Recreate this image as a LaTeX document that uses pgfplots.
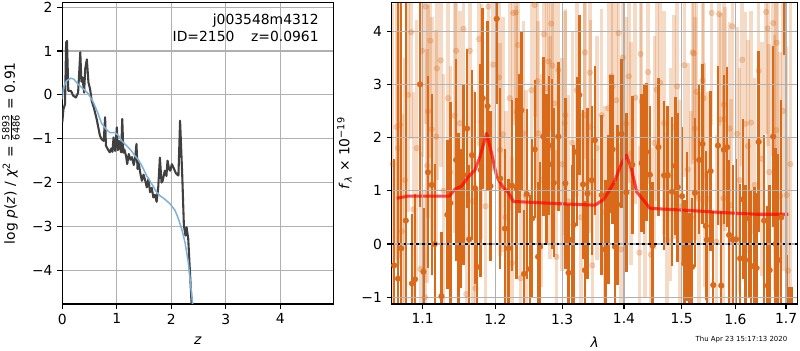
\documentclass[border=0pt]{standalone}
\usepackage{fontspec}
\setmainfont{DejaVu Sans}
\usepackage{pgfplots}
\pgfplotsset{compat=1.18}
\definecolor{darkline}{RGB}{64,64,64}
\definecolor{bluel}{RGB}{127,178,214}
\definecolor{orng}{RGB}{216,106,26}
\definecolor{gridc}{RGB}{176,176,176}
\pgfplotsset{
  mpl/.style={
    scale only axis, anchor=south west,
    axis line style={line width=0.8pt, black},
    grid=major, major grid style={line width=0.8pt, gridc},
    tick align=outside, major tick length=3.5pt,
    tick style={line width=0.8pt, black},
    xtick pos=bottom, ytick pos=left,
    tick label style={font=\normalsize},
    label style={font=\normalsize},
  }
}
\begin{document}
\begin{tikzpicture}
\path[use as bounding box] (0,0) rectangle (576pt,252pt);
% ---------------- left panel ----------------
\begin{axis}[mpl,
  at={(44.86pt,33.12pt)}, width=195.1pt, height=217.2pt,
  xmin=0, xmax=4.97, ymin=-4.77, ymax=2.11,
  xtick={0,1,2,3,4}, xticklabels={0,1,2,3,4},
  ytick={-4,-3,-2,-1,0,1,2}, yticklabels={−4,−3,−2,−1,0,1,2},
  xlabel={\textit{z}},
  xlabel style={yshift=-2pt},
  ylabel={log \textit{p}(\textit{z}) / \textit{χ}\textsuperscript{2} = $\frac{\mbox{\scriptsize 5893}}{\mbox{\scriptsize 6486}}$ = 0.91},
  ylabel style={yshift=2pt},
]
\addplot[darkline, line width=1.5pt, line join=round] coordinates {
(0.00,-0.63) (0.02,-0.33) (0.05,-0.21) (0.07,1.19) (0.086,1.23) (0.11,0.09)
(0.16,0.09) (0.20,-0.02) (0.25,-0.06) (0.29,0.05) (0.33,0.97) (0.35,0.30)
(0.37,0.40) (0.40,0.05) (0.42,0.59) (0.45,0.81) (0.48,0.28) (0.51,0.13)
(0.54,-0.14) (0.58,-0.30) (0.63,-0.55) (0.69,-0.93) (0.72,-1.01) (0.76,-1.05)
(0.785,-0.51) (0.80,-1.16) (0.84,-1.25) (0.87,-1.31) (0.90,-1.22) (0.92,-1.30)
(0.94,-0.97) (0.97,-1.28) (1.00,-0.74) (1.02,-1.26) (1.04,-1.05) (1.06,-1.20)
(1.08,-1.31) (1.10,-0.55) (1.12,-1.32) (1.14,-1.25) (1.17,-1.40) (1.19,-1.58)
(1.22,-1.35) (1.25,-1.48) (1.28,-1.42) (1.31,-1.60) (1.335,-1.45) (1.36,-1.12)
(1.38,-1.69) (1.40,-1.54) (1.43,-1.78) (1.46,-1.96) (1.49,-1.82) (1.52,-1.95)
(1.55,-2.11) (1.58,-1.92) (1.61,-2.22) (1.64,-2.12) (1.67,-2.34) (1.70,-2.28)
(1.73,-2.44) (1.76,-2.10) (1.79,-1.43) (1.82,-2.00) (1.84,-1.96) (1.88,-1.73)
(1.91,-1.85) (1.93,-1.50) (1.96,-1.70) (1.98,-1.73) (2.01,-1.58) (2.05,-1.69)
(2.08,-1.78) (2.10,-1.81) (2.13,-1.84) (2.16,-0.59) (2.20,-1.84) (2.23,-2.98)
(2.26,-3.21) (2.28,-3.02) (2.31,-3.29) (2.37,-4.73) (2.40,-5.30)
};
\addplot[bluel, line width=1.1pt] coordinates {
(0.00,-0.10) (0.02,0.17) (0.08,0.32) (0.15,0.38) (0.21,0.36) (0.29,0.24)
(0.39,0.13) (0.48,0.02) (0.57,-0.17) (0.66,-0.44) (0.72,-0.65) (0.80,-0.78)
(0.87,-0.86) (0.97,-0.86) (1.03,-0.93) (1.09,-1.05) (1.18,-1.16) (1.27,-1.28)
(1.33,-1.39) (1.39,-1.47) (1.46,-1.62) (1.55,-1.85) (1.64,-2.03) (1.73,-2.22)
(1.79,-2.30) (1.88,-2.38) (1.98,-2.49) (2.07,-2.64) (2.13,-2.83) (2.19,-3.06)
(2.25,-3.36) (2.31,-3.82) (2.39,-4.75) (2.42,-5.10)
};
\node[anchor=north east, align=right, inner sep=0pt] at (rel axis cs:0.947,0.962)
  {j003548m4312\\ID=2150\hspace{1.2em}z=0.0961};
\end{axis}
% ---------------- right panel ----------------
\begin{axis}[mpl, axis on top,
  at={(282.0pt,33.12pt)}, width=292.5pt, height=217.2pt,
  xmode=log, xmin=1.0599, xmax=1.7243, ymin=-1.126, ymax=4.54,
  xtick={1.1,1.2,1.3,1.4,1.5,1.6,1.7}, xticklabels={1.1,1.2,1.3,1.4,1.5,1.6,1.7},
  minor xtick={},
  ytick={-1,0,1,2,3,4}, yticklabels={−1,0,1,2,3,4},
  xlabel={\textit{λ}},
  xlabel style={yshift=-2pt},
  ylabel={\textit{f}\textsubscript{\textit{λ}} × 10\textsuperscript{−19}},
]
% light (second) spectrum
\addplot[only marks, mark=*, mark size=2pt, orng,
  mark options={draw opacity=0.27, fill opacity=0.27},
  error bars/.cd, y dir=both, y explicit, error mark=none,
  error bar style={line width=2.6pt, orng, opacity=0.25}]
table[x index=0, y index=1, y error index=2] {
1.061 1.50 3.0
1.066 2.20 2.5
1.068 1.80 2.2
1.0705 2.24 2.5
1.073 0.24 2.2
1.077 1.20 2.3
1.081 2.80 2.2
1.085 3.98 2.0
1.088 0.65 2.2
1.092 1.80 2.4
1.097 -0.47 2.2
1.099 3.63 2.0
1.103 -1.00 2.0
1.104 4.46 2.2
1.106 1.47 2.2
1.107 2.49 2.0
1.110 3.82 2.2
1.112 2.16 2.1
1.118 2.02 2.0
1.119 3.30 2.1
1.124 3.45 2.0
1.128 1.00 2.2
1.134 2.74 2.1
1.137 1.35 2.0
1.143 2.41 2.2
1.145 3.63 2.0
1.150 2.27 2.1
1.155 4.04 2.0
1.159 -0.94 2.0
1.164 3.63 2.2
1.168 0.80 2.1
1.172 -0.83 2.0
1.177 3.85 2.0
1.180 2.30 2.2
1.186 0.71 2.0
1.190 4.46 2.1
1.197 3.37 2.0
1.205 3.13 2.1
1.207 1.77 2.0
1.211 2.06 2.2
1.215 0.50 2.0
1.221 2.74 2.1
1.224 -0.36 2.0
1.226 4.34 2.1
1.230 4.35 2.0
1.231 2.48 2.0
1.233 3.74 2.1
1.237 -0.64 2.0
1.241 2.08 2.1
1.245 0.90 2.0
1.253 2.89 2.0
1.258 4.49 2.1
1.262 3.06 2.0
1.263 2.08 2.1
1.268 1.20 2.0
1.272 3.94 2.1
1.276 2.92 2.0
1.279 3.43 2.0
1.281 1.81 2.1
1.283 4.14 2.0
1.285 3.35 2.1
1.288 2.64 2.0
1.291 -0.24 2.0
1.294 3.27 2.1
1.300 1.50 2.0
1.304 2.27 2.1
1.305 2.42 2.0
1.310 0.80 2.0
1.316 1.90 2.1
1.323 2.89 2.0
1.330 0.50 2.0
1.335 2.42 2.1
1.336 3.60 2.0
1.344 3.22 2.1
1.345 2.20 2.0
1.348 -0.40 2.0
1.355 1.80 2.1
1.363 2.42 2.0
1.368 0.60 2.0
1.374 2.55 2.1
1.379 3.15 2.0
1.381 2.96 2.0
1.387 2.70 2.1
1.391 3.96 2.0
1.395 -0.10 2.0
1.398 3.50 2.1
1.404 2.26 2.0
1.408 3.15 2.0
1.412 1.70 2.1
1.419 2.75 2.0
1.426 -0.16 2.0
1.428 3.57 2.1
1.430 2.68 2.0
1.436 1.00 2.0
1.441 3.23 2.1
1.446 -0.20 2.0
1.452 1.90 2.0
1.456 2.90 2.1
1.462 3.03 2.0
1.469 2.27 2.1
1.474 0.08 2.0
1.480 1.30 2.0
1.486 2.20 2.1
1.492 2.96 2.0
1.497 0.70 2.0
1.505 3.36 2.1
1.511 1.40 2.0
1.517 0.50 2.0
1.520 3.60 2.1
1.522 3.58 2.0
1.524 2.17 2.1
1.527 2.86 2.0
1.532 0.85 2.0
1.538 3.07 2.1
1.540 2.74 2.0
1.542 1.30 2.1
1.548 0.85 2.0
1.555 4.34 2.1
1.564 0.04 2.0
1.569 4.32 2.1
1.572 2.34 2.0
1.577 0.86 2.1
1.578 2.62 2.0
1.580 2.35 2.1
1.589 2.17 2.0
1.591 0.73 2.0
1.594 4.09 2.1
1.603 2.07 2.0
1.608 1.20 2.1
1.613 3.46 2.0
1.619 2.26 2.1
1.624 1.84 2.0
1.630 2.28 2.1
1.637 1.11 2.0
1.645 3.25 2.1
1.652 1.60 2.2
1.660 4.36 2.3
1.663 4.05 2.2
1.666 1.35 2.4
1.674 4.15 2.5
1.677 1.52 2.4
1.680 2.14 2.5
1.681 3.78 2.6
1.688 0.90 2.7
1.694 2.50 3.0
1.701 0.92 2.8
1.704 -0.50 2.5
1.709 1.50 3.5
};
% dark (first) spectrum
\addplot[only marks, mark=*, mark size=2pt, orng,
  error bars/.cd, y dir=both, y explicit, error mark=none,
  error bar style={line width=1.75pt, orng}]
table[x index=0, y index=1, y error index=2] {
1.063 -0.40 2.00
1.068 -0.65 5.50
1.072 -0.08 4.80
1.078 0.44 4.20
1.086 -0.74 1.30
1.090 -0.66 1.60
1.0965 3.00 2.30
1.101 -0.52 1.20
1.107 1.35 1.80
1.112 1.11 1.70
1.116 0.00 1.50
1.125 -0.98 1.20
1.133 0.55 1.40
1.137 0.77 1.90
1.145 1.58 1.90
1.148 0.48 1.60
1.151 0.48 1.30
1.155 1.30 1.70
1.160 2.17 1.50
1.163 0.09 1.40
1.167 1.67 1.60
1.171 1.05 1.80
1.174 -0.43 1.50
1.179 1.39 2.00
1.182 2.74 1.70
1.189 2.59 1.60
1.193 1.09 1.40
1.202 4.23 1.60
1.207 1.23 1.70
1.214 0.29 1.50
1.219 -0.08 1.30
1.224 1.10 1.60
1.231 1.05 1.70
1.235 1.89 1.30
1.238 2.51 1.50
1.242 -0.56 1.20
1.246 0.94 1.60
1.251 -0.47 1.40
1.254 0.48 1.50
1.258 1.78 1.30
1.263 -0.24 1.40
1.266 -0.05 1.60
1.271 2.02 1.50
1.276 1.42 1.40
1.280 1.85 1.30
1.284 1.50 1.60
1.287 1.15 1.40
1.294 2.02 1.40
1.305 1.14 1.60
1.310 -0.54 1.30
1.315 0.08 1.40
1.318 0.36 1.50
1.323 1.73 1.40
1.327 2.80 1.50
1.333 1.12 1.40
1.336 -0.49 1.30
1.340 0.95 1.60
1.347 1.20 1.40
1.352 1.95 1.40
1.363 0.92 1.50
1.369 -0.10 1.30
1.374 0.65 1.40
1.377 1.88 1.30
1.381 1.78 1.40
1.385 -0.05 1.20
1.389 0.74 1.50
1.396 2.07 1.40
1.404 0.97 1.50
1.414 1.49 1.30
1.430 1.52 1.30
1.434 1.59 1.40
1.438 1.73 1.30
1.444 1.30 1.30
1.449 -0.03 1.20
1.459 1.82 1.30
1.469 1.29 1.40
1.475 1.29 1.30
1.483 0.98 1.40
1.489 1.47 1.30
1.493 1.07 1.40
1.501 0.90 1.30
1.505 -0.37 1.20
1.510 0.33 1.40
1.514 -0.72 1.30
1.519 -0.43 1.30
1.524 0.96 1.40
1.532 1.58 1.40
1.538 1.88 1.50
1.544 0.34 1.40
1.546 0.08 1.30
1.553 1.37 1.50
1.558 -0.77 1.40
1.567 1.85 1.50
1.573 -0.78 1.40
1.578 1.77 1.40
1.584 1.82 1.50
1.588 0.17 1.40
1.595 0.08 1.40
1.601 0.09 1.50
1.609 -0.27 1.40
1.614 0.84 1.50
1.619 -0.30 1.40
1.626 0.48 1.50
1.630 -0.41 1.40
1.637 -0.43 1.50
1.641 -0.45 1.40
1.645 1.92 1.70
1.656 0.44 1.60
1.663 -0.78 1.50
1.667 -0.49 1.60
1.674 2.02 1.70
1.679 0.00 1.80
1.684 -0.30 2.00
1.690 0.50 2.20
1.696 5.00 1.45
1.701 -1.40 1.20
1.706 -1.60 0.80
1.711 -1.70 0.90
};
% model
\addplot[red, opacity=0.7, line width=2.2pt, line join=round] coordinates {
(1.0665,0.86) (1.0807,0.90) (1.1356,0.90) (1.1434,1.03) (1.1526,1.09)
(1.1617,1.26) (1.1711,1.39) (1.1781,1.64) (1.1876,2.08) (1.1947,1.70)
(1.2019,1.27) (1.2115,1.06) (1.2188,0.97) (1.2261,0.80) (1.2915,0.76)
(1.3521,0.73) (1.3655,0.83) (1.3737,0.97) (1.3848,1.19) (1.3960,1.52)
(1.4044,1.67) (1.4129,1.39) (1.4214,0.98) (1.4327,0.83) (1.4442,0.67)
(1.5150,0.63) (1.5767,0.59) (1.6409,0.56) (1.7044,0.56)
};
\end{axis}
% overlay axis for the zero line (drawn above the grid)
\begin{axis}[scale only axis, anchor=south west, axis lines=none,
  at={(282.0pt,33.12pt)}, width=292.5pt, height=217.2pt,
  xmode=log, xmin=1.0599, xmax=1.7243, ymin=-1.126, ymax=4.54]
\addplot[black, line width=1.8pt, dash pattern=on 1.8pt off 2.6pt] coordinates {(1.0599,0) (1.7243,0)};
\end{axis}
\node[anchor=base east, inner sep=0pt, font=\fontsize{5}{6}\selectfont] at (567pt,6pt) {Thu Apr 23 15:17:13 2020};
\end{tikzpicture}
\end{document}
